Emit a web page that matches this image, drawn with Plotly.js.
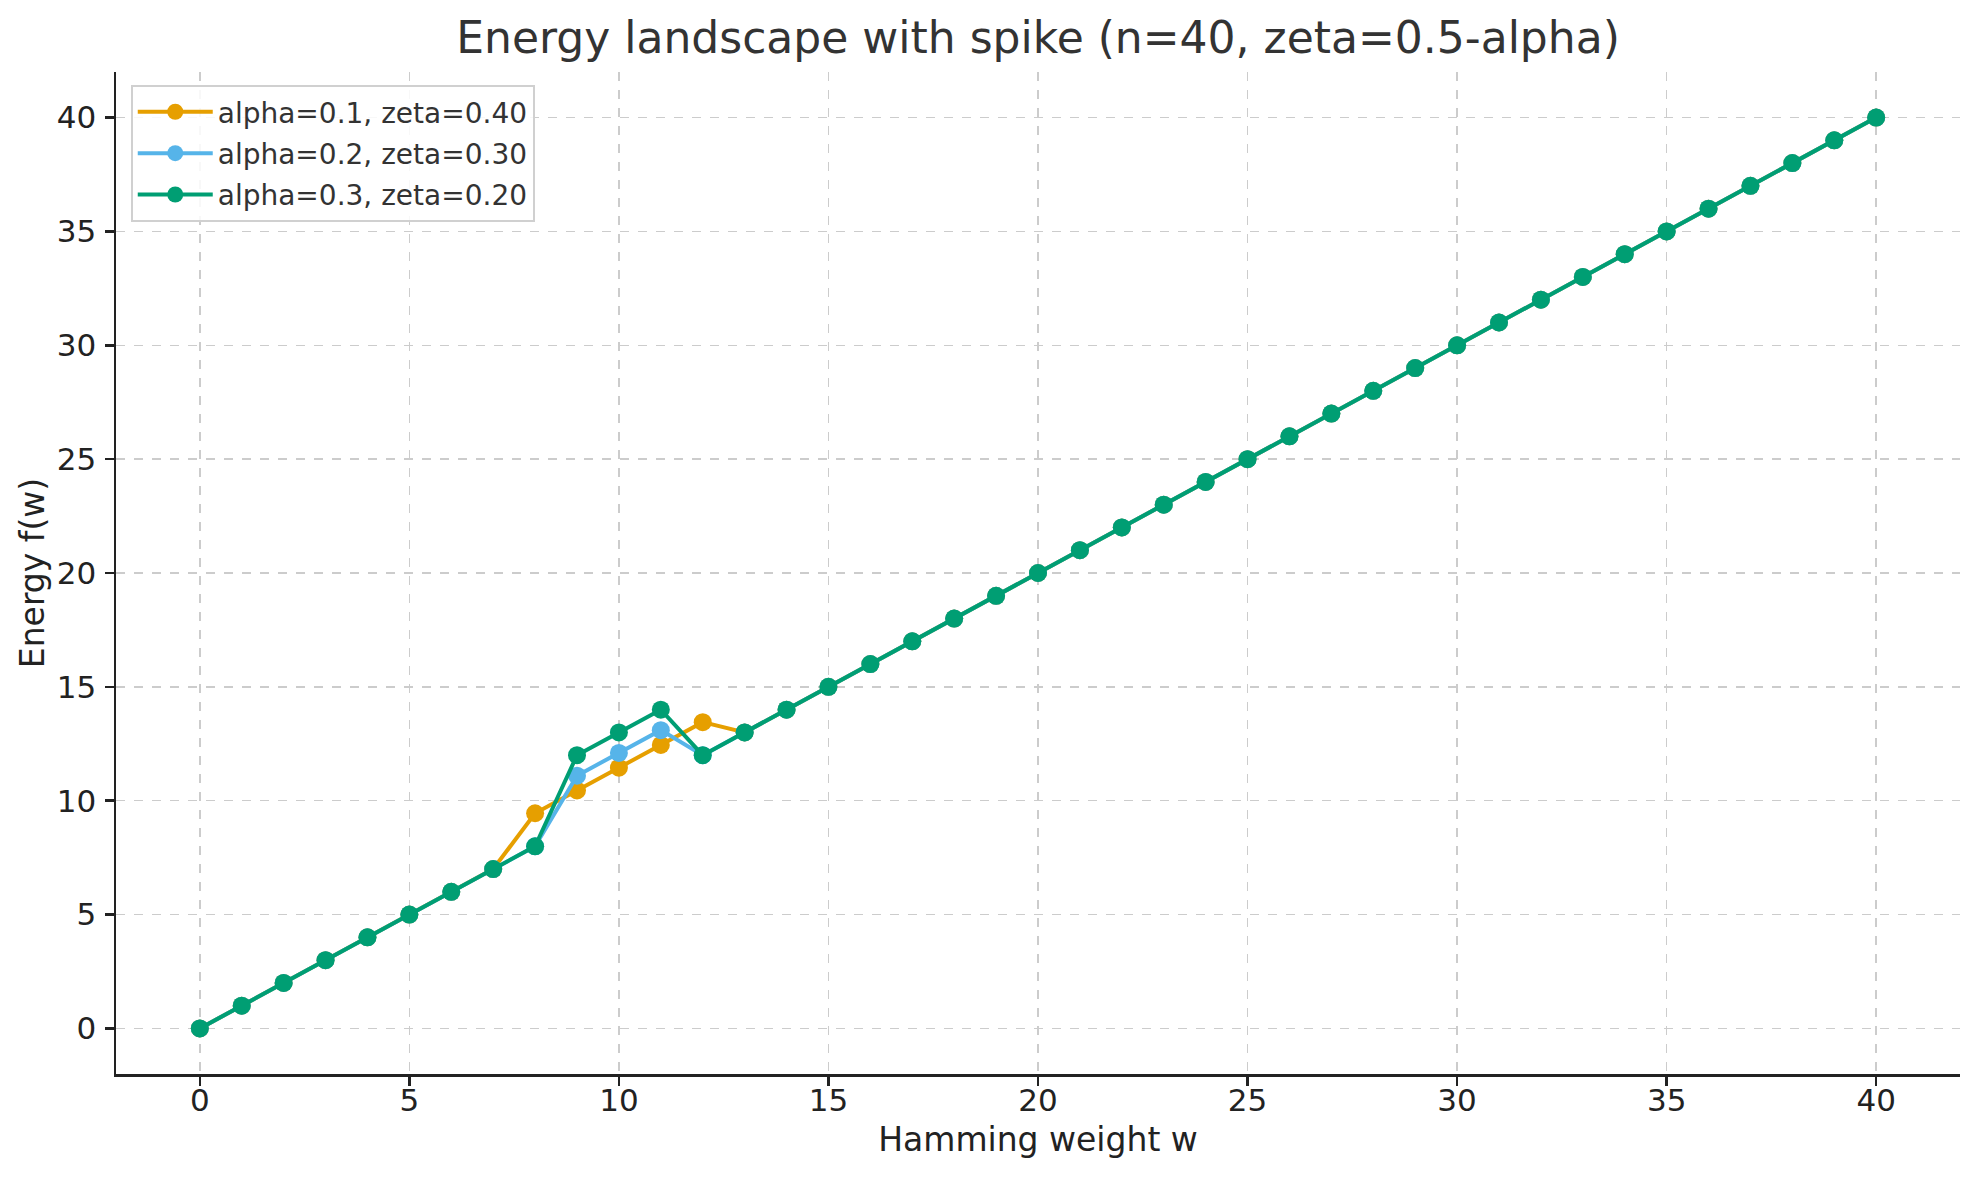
<!DOCTYPE html>
<html>
<head>
<meta charset="utf-8">
<script src="https://cdn.plot.ly/plotly-3.0.1.min.js"></script>
<style>html,body{margin:0;padding:0;background:#fff;} #chart{width:1979px;height:1180px;}</style>
</head>
<body>
<div id="chart"></div>
<script>
const weights = [0,1,2,3,4,5,6,7,8,9,10,11,12,13,14,15,16,17,18,19,20,21,22,23,24,25,26,27,28,29,30,31,32,33,34,35,36,37,38,39,40];
const energyAlpha01 = [0,1,2,3,4,5,6,7,9.45,10.45,11.45,12.45,13.45,13,14,15,16,17,18,19,20,21,22,23,24,25,26,27,28,29,30,31,32,33,34,35,36,37,38,39,40];
const energyAlpha02 = [0,1,2,3,4,5,6,7,8,11.1,12.1,13.1,12,13,14,15,16,17,18,19,20,21,22,23,24,25,26,27,28,29,30,31,32,33,34,35,36,37,38,39,40];
const energyAlpha03 = [0,1,2,3,4,5,6,7,8,12,13,14,12,13,14,15,16,17,18,19,20,21,22,23,24,25,26,27,28,29,30,31,32,33,34,35,36,37,38,39,40];
const seriesNames = ["alpha=0.1, zeta=0.40", "alpha=0.2, zeta=0.30", "alpha=0.3, zeta=0.20"];
const seriesColors = ["#E69F00", "#56B4E9", "#009E73"];
const seriesValues = [energyAlpha01, energyAlpha02, energyAlpha03];

const traces = seriesValues.map((ys, i) => ({
  x: weights, y: ys, name: seriesNames[i], type: 'scatter', mode: 'lines+markers',
  legendgroup: 'g' + i,
  line: {color: seriesColors[i], width: 4},
  marker: {color: seriesColors[i], size: 18}
}));

const font = "DejaVu Sans, sans-serif";
const axisCommon = {
  showline: true, linecolor: '#222', linewidth: 2.5, mirror: false,
  ticks: 'outside', ticklen: 9, tickwidth: 2.5, tickcolor: '#222',
  showgrid: true, gridcolor: '#cccccc', griddash: 'dash', gridwidth: 1.5,
  zeroline: false, dtick: 5, tick0: 0,
  tickfont: {family: font, size: 31, color: '#222'}
};
const layout = {
  width: 1979, height: 1180,
  margin: {l: 116, r: 19, t: 72, b: 106},
  paper_bgcolor: '#fff', plot_bgcolor: '#fff',
  title: {text: 'Energy landscape with spike (n=40, zeta=0.5-alpha)', font: {family: font, size: 44, color: '#333'}, xref: 'paper', x: 0.5, xanchor: 'center', y: 0.968, yanchor: 'middle'},
  xaxis: Object.assign({}, axisCommon, {range: [-2, 42], ticklabelstandoff: -12, title: {text: 'Hamming weight w', font: {family: font, size: 33, color: '#222'}, standoff: 11}}),
  yaxis: Object.assign({}, axisCommon, {range: [-2, 42], ticklabelstandoff: 2, title: {text: 'Energy f(w)', font: {family: font, size: 33, color: '#222'}, standoff: 3}}),
  legend: {x: 0.008, y: 0.987, xanchor: 'left', yanchor: 'top', bgcolor: 'rgba(255,255,255,0.85)', bordercolor: '#d0d0d0', borderwidth: 2,
    traceorder: 'grouped', tracegroupgap: 2, itemwidth: 75,
    font: {family: font, size: 28, color: '#333'}},
  showlegend: true
};
Plotly.newPlot('chart', traces, layout, {displayModeBar: false, staticPlot: true});
</script>
</body>
</html>
